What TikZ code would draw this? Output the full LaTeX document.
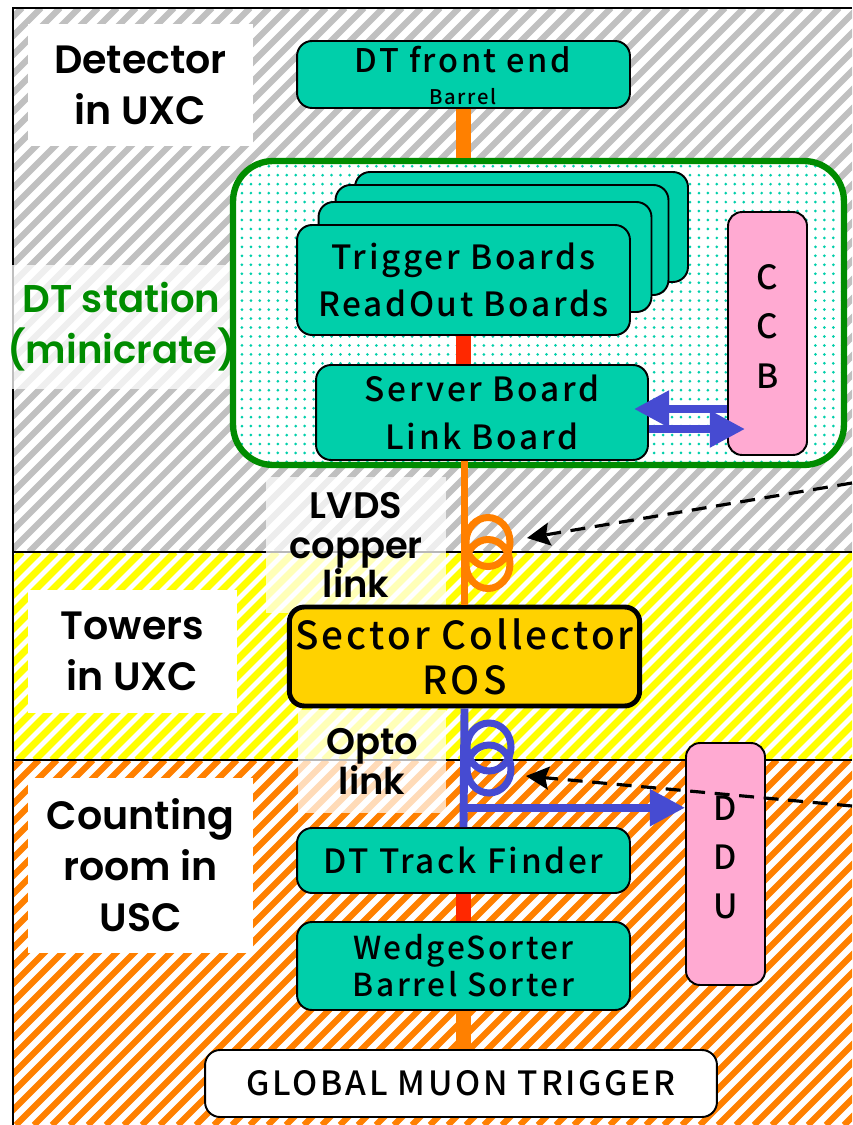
\documentclass[tikz,border=0pt]{standalone}
\usepackage{fontspec}
\usepackage{tikz}
\usetikzlibrary{arrows.meta,patterns}
\newfontfamily\boardfont{Noto Sans CJK JP}[LetterSpace=8,UprightFont=* Medium]
\newfontfamily\handfont{Poppins}[UprightFont=* Medium,BoldFont=* SemiBold]
\definecolor{boardteal}{RGB}{0,207,170}
\definecolor{stationgreen}{RGB}{0,140,0}
\definecolor{cableorange}{RGB}{255,128,0}
\definecolor{linkred}{RGB}{255,40,0}
\definecolor{optoblue}{RGB}{70,75,210}
\definecolor{ccbpink}{RGB}{255,170,210}
\definecolor{rosyellow}{RGB}{255,210,0}
\definecolor{uxcgray}{RGB}{192,192,192}
\definecolor{toweryellow}{RGB}{255,255,0}
\pgfdeclarepatternformonly{boarddots}{\pgfqpoint{-1pt}{-1pt}}{\pgfqpoint{1pt}{1pt}}{\pgfqpoint{5.1pt}{5.1pt}}{\pgfpathcircle{\pgfqpoint{0pt}{0pt}}{0.85pt}\pgfusepath{fill}}

\begin{document}
\begin{tikzpicture}[x=0.02cm,y=-0.02cm,>=Latex]
\tikzstyle{stripe}=[line width=3.6pt]
\tikzstyle{zone}=[fill=white,inner sep=0pt,align=center,font=\handfont\bfseries\fontsize{22.5}{29}\selectfont]
\tikzstyle{cablezone}=[zone,fill opacity=0.72,text opacity=1,font=\handfont\bfseries\fontsize{21}{22.5}\selectfont]
\tikzstyle{board}=[draw,line width=1.1pt,rounded corners=0.3cm,fill=boardteal,align=center,minimum width=6.66cm,font=\boardfont\fontsize{19}{27}\selectfont]
\tikzstyle{pinkbox}=[draw,line width=1.1pt,rounded corners=0.28cm,fill=ccbpink,minimum width=1.58cm,minimum height=4.86cm,align=center,text depth=8pt,font=\boardfont\fontsize{19}{28}\selectfont]
\tikzstyle{link}=[line width=8.5pt]
\tikzstyle{cable}=[line width=4.5pt]
\tikzstyle{coil}=[line width=4pt]
\tikzstyle{bluearrow}=[optoblue,line width=4.5pt,-{Triangle[length=20pt,width=20pt]}]
\tikzstyle{ctrl}=[line width=1.8pt,dash pattern=on 8.5pt off 5.5pt,-{Stealth[length=13pt,width=13pt,inset=2pt]}]

\useasboundingbox (0,0) rectangle (852,1125);
\fill[white] (0,0) rectangle (852,1125);

\begin{scope}
\clip (13,8) rectangle (852,552);
\foreach \i in {-560,-541,...,860} \draw[stripe,uxcgray] (\i,552) -- ++(544,-544);
\end{scope}
\begin{scope}
\clip (13,552) rectangle (852,760);
\foreach \i in {-220,-203,...,860} \draw[stripe,toweryellow,line width=4pt] (\i,760) -- ++(208,-208);
\end{scope}
\begin{scope}
\clip (13,760) rectangle (852,1125);
\foreach \i in {-380,-362,...,860} \draw[stripe,cableorange] (\i,1125) -- ++(365,-365);
\end{scope}
\draw[line width=1.4pt] (13,1125) |- (852,8);
\draw[line width=1.1pt] (13,552) -- (852,552);
\draw[line width=1.1pt] (13,760) -- (852,760);

\node[zone,minimum width=4.5cm,minimum height=2.44cm] (uxc) at (140.5,85) {Detector\\in UXC};
\node[zone,minimum width=4.18cm,minimum height=2.46cm] (towers) at (132.5,651.5) {Towers\\in UXC};
\node[zone,minimum width=4.5cm,minimum height=3.5cm] (usc) at (140.5,865.5) {Counting\\room in\\USC};
\node[zone,fill opacity=0.75,text opacity=1,text=stationgreen,minimum width=4.34cm,minimum height=2.48cm,font=\handfont\bfseries\fontsize{22}{29}\selectfont] (stationname) at (121.5,327) {DT station\\(minicrate)};
\node[cablezone,minimum width=3.6cm,minimum height=2.72cm] (lvds) at (356,545) {LVDS\\copper\\link};
\node[cablezone,minimum width=2.96cm,minimum height=2.06cm] (opto) at (372,761.5) {Opto\\link};

\node[draw=stationgreen,line width=3.6pt,rounded corners=0.8cm,minimum width=12.22cm,minimum height=6.08cm,preaction={fill=white},pattern=boarddots,pattern color=boardteal] (station) at (538.5,313) {};

\node[board,minimum height=1.34cm] (front) at (463.5,74.5) {};
\node[anchor=base,font=\boardfont\fontsize{18.5}{18}\selectfont] (frontname) at (463,73) {DT front end};
\node[anchor=base,font=\boardfont\fontsize{11.5}{11}\selectfont] (frontsub) at (463,105) {Barrel};

\node[board,minimum height=2.2cm] (card4) at (521.5,227) {};
\node[board,minimum height=2.2cm] (card3) at (502,240) {};
\node[board,minimum height=2.2cm] (card2) at (485,257) {};
\node[board,minimum height=2.2cm] (trig) at (463.5,280) {Trigger Boards\\ReadOut Boards};
\node[board,minimum width=6.64cm,minimum height=1.9cm] (server) at (482,412.5) {Server Board\\Link Board};
\node[pinkbox] (ccb) at (767.5,333.5) {C\\C\\B};

\node[board,line width=2.8pt,fill=rosyellow,minimum width=6.7cm,minimum height=1.98cm,font=\boardfont\fontsize{22}{25.5}\selectfont] (sector) at (464.5,656.5) {Sector Collector\\ROS};
\node[pinkbox,minimum height=4.84cm] (ddu) at (725.5,864) {D\\D\\U};
\node[board,minimum height=1.3cm] (finder) at (463.5,860.5) {DT Track Finder};
\node[board,minimum height=1.76cm,font=\boardfont\fontsize{18}{21}\selectfont] (sorter) at (463.5,966) {WedgeSorter\\Barrel Sorter};
\node[board,fill=white,minimum width=10.24cm,minimum height=1.34cm] (gmt) at (461,1083.5) {GLOBAL MUON TRIGGER};

\draw[link,cableorange] (front.south) -- (front.south |- station.north);
\draw[link,linkred] (trig.south) -- (trig.south |- server.north);
\draw[cable,cableorange] (sector.north |- server.south) -- (sector.north);
\foreach \yy in {542,564} \draw[coil,cableorange] (488,\yy) ellipse [x radius=0.44cm,y radius=0.49cm];
\draw[cable,optoblue] (sector.south) -- (finder.north);
\foreach \yy in {747,769} \draw[coil,optoblue] (489,\yy) ellipse [x radius=0.44cm,y radius=0.48cm];
\draw[link,linkred] (finder.south) -- (sorter.north);
\draw[link,cableorange] (sorter.south) -- (sorter.south |- gmt.north);

\coordinate (ccbport) at (server.east -| ccb.west);
\draw[bluearrow] ([yshift=2pt]ccbport) -- ([yshift=2pt,xshift=-8.5pt]server.east);
\draw[bluearrow] ([yshift=-9.4pt]server.east) -- ([yshift=-9.4pt,xshift=10.2pt]ccbport);
\draw[bluearrow] ([yshift=11pt]finder.north) -- ([yshift=11pt]finder.north -| ddu.west);

\coordinate (lvdsfar) at (852,483);
\coordinate (lvdstip) at (527,538);
\coordinate (optofar) at (852,806);
\coordinate (optotip) at (526,776);
\draw[ctrl] (lvdsfar) -- (lvdstip);
\draw[ctrl] (optofar) -- (optotip);
\end{tikzpicture}
\end{document}
